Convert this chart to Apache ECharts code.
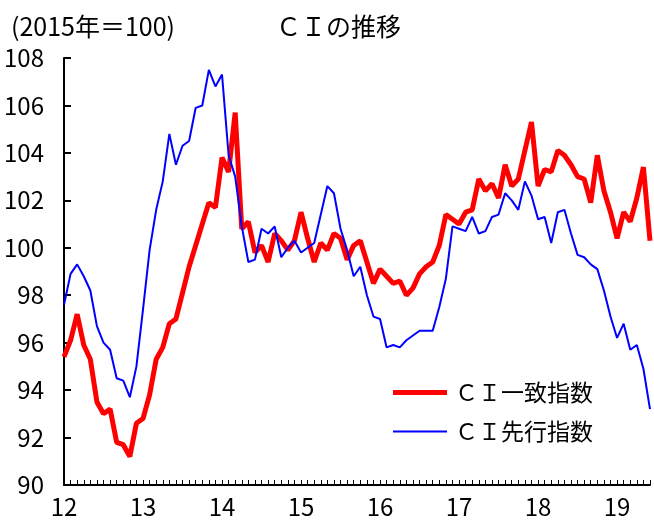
<!DOCTYPE html>
<html lang="ja">
<head>
<meta charset="UTF-8">
<title>CIの推移</title>
<script src="https://cdn.jsdelivr.net/npm/echarts@6/dist/echarts.min.js"></script>
<style>
    body { margin: 0; background: #fff; }
    #main { width: 654px; height: 523px; }
</style>
</head>
<body>
<div id="main"></div>
<script>
    // 2012年1月〜2019年6月（月次）
    const years = ['12', '13', '14', '15', '16', '17', '18', '19'];
    const lastYearMonths = 6;

    // CI一致指数
    const coincident = [
        95.4, 96.1, 97.2, 95.9, 95.3, 93.5, 93.0, 93.2, 91.8, 91.7, 91.2, 92.6,
        92.8, 93.8, 95.3, 95.8, 96.8, 97.0, 98.1, 99.2, 100.1, 101.0, 101.9, 101.7,
        103.8, 103.2, 105.7, 100.8, 101.1, 99.8, 100.1, 99.4, 100.6, 100.3, 99.9, 100.3,
        101.5, 100.4, 99.4, 100.2, 99.9, 100.6, 100.4, 99.5, 100.1, 100.3, 99.4, 98.5,
        99.1, 98.8, 98.5, 98.6, 98.0, 98.3, 98.9, 99.2, 99.4, 100.1, 101.4, 101.2,
        101.0, 101.5, 101.6, 102.9, 102.4, 102.7, 102.1, 103.5, 102.6, 102.9, 104.1, 105.3,
        102.6, 103.3, 103.2, 104.1, 103.9, 103.5, 103.0, 102.9, 101.9, 103.9, 102.4, 101.5,
        100.4, 101.5, 101.1, 102.1, 103.4, 100.3
    ];

    // CI先行指数
    const leading = [
        97.6, 98.9, 99.3, 98.8, 98.2, 96.7, 96.0, 95.7, 94.5, 94.4, 93.7, 95.0,
        97.4, 99.9, 101.6, 102.8, 104.8, 103.5, 104.3, 104.5, 105.9, 106.0, 107.5, 106.8,
        107.3, 103.9, 103.0, 100.9, 99.4, 99.5, 100.8, 100.6, 100.9, 99.6, 100.0, 100.3,
        99.8, 100.0, 100.2, 101.4, 102.6, 102.3, 100.8, 99.9, 98.8, 99.2, 98.0, 97.1,
        97.0, 95.8, 95.9, 95.8, 96.1, 96.3, 96.5, 96.5, 96.5, 97.5, 98.7, 100.9,
        100.8, 100.7, 101.3, 100.6, 100.7, 101.3, 101.4, 102.3, 102.0, 101.6, 102.8, 102.2,
        101.2, 101.3, 100.2, 101.5, 101.6, 100.6, 99.7, 99.6, 99.3, 99.1, 98.2, 97.1,
        96.2, 96.8, 95.7, 95.9, 94.9, 93.2
    ];

    const yTicks = { min: 90, max: 108, interval: 2 };

    // 月のカテゴリを作る（1月だけ年を表示）
    const months = [];
    years.forEach(function (y, k) {
        const n = k === years.length - 1 ? lastYearMonths : 12;
        for (let m = 1; m <= n; m++) {
            months.push(y + '/' + m);
        }
    });

    const jpFont = '"Noto Sans CJK JP", sans-serif';

    let chart = echarts.init(document.getElementById('main'));

    let option = {
        animation: false,
        backgroundColor: '#fff',
        title: [
            {
                text: '(2015年＝100)',
                left: 6,
                top: 9,
                textStyle: { fontFamily: jpFont, fontSize: 25, fontWeight: 'normal', color: '#000' }
            },
            {
                text: 'ＣＩの推移',
                left: 271,
                top: 9,
                textStyle: { fontFamily: jpFont, fontSize: 25, fontWeight: 'normal', color: '#000' }
            }
        ],
        legend: {
            orient: 'vertical',
            left: 388,
            top: 376,
            itemWidth: 54,
            itemHeight: 14,
            itemGap: 16,
            symbolKeepAspect: true,
            data: [
                { name: 'ＣＩ一致指数', icon: 'path://M0 0H54V5H0Z', itemStyle: { color: '#ff0000' } },
                { name: 'ＣＩ先行指数', icon: 'path://M0 0H54V2H0Z', itemStyle: { color: '#0000ff' } }
            ],
            textStyle: { fontFamily: jpFont, fontSize: 23, color: '#000', padding: [0, 0, 0, 3] }
        },
        grid: {
            left: 64,
            right: 4,
            top: 58,
            bottom: 38,
            containLabel: false
        },
        xAxis: {
            type: 'category',
            data: months,
            boundaryGap: false,
            axisLine: { lineStyle: { color: '#000', width: 2 } },
            axisTick: {
                inside: true,
                length: 5,
                interval: 0,
                lineStyle: { color: '#000', width: 1 }
            },
            axisLabel: {
                interval: 0,
                margin: 10,
                fontFamily: jpFont,
                fontSize: 24,
                color: '#000',
                formatter: function (v) {
                    const p = v.split('/');
                    return p[1] === '1' ? p[0] : '';
                }
            },
            splitLine: { show: false }
        },
        yAxis: {
            type: 'value',
            min: yTicks.min,
            max: yTicks.max,
            interval: yTicks.interval,
            axisLine: { show: true, lineStyle: { color: '#000', width: 2 } },
            axisTick: { show: true, inside: true, length: 7, lineStyle: { color: '#000', width: 2 } },
            axisLabel: { margin: 20, fontFamily: jpFont, fontSize: 24, color: '#000' },
            splitLine: { show: false }
        },
        series: [
            {
                name: 'ＣＩ一致指数',
                type: 'line',
                data: coincident,
                symbol: 'none',
                lineStyle: { color: '#ff0000', width: 5 },
                itemStyle: { color: '#ff0000' },
                z: 2
            },
            {
                name: 'ＣＩ先行指数',
                type: 'line',
                data: leading,
                symbol: 'none',
                lineStyle: { color: '#0000ff', width: 2 },
                itemStyle: { color: '#0000ff' },
                z: 3
            }
        ]
    };

    chart.setOption(option);
</script>
</body>
</html>
